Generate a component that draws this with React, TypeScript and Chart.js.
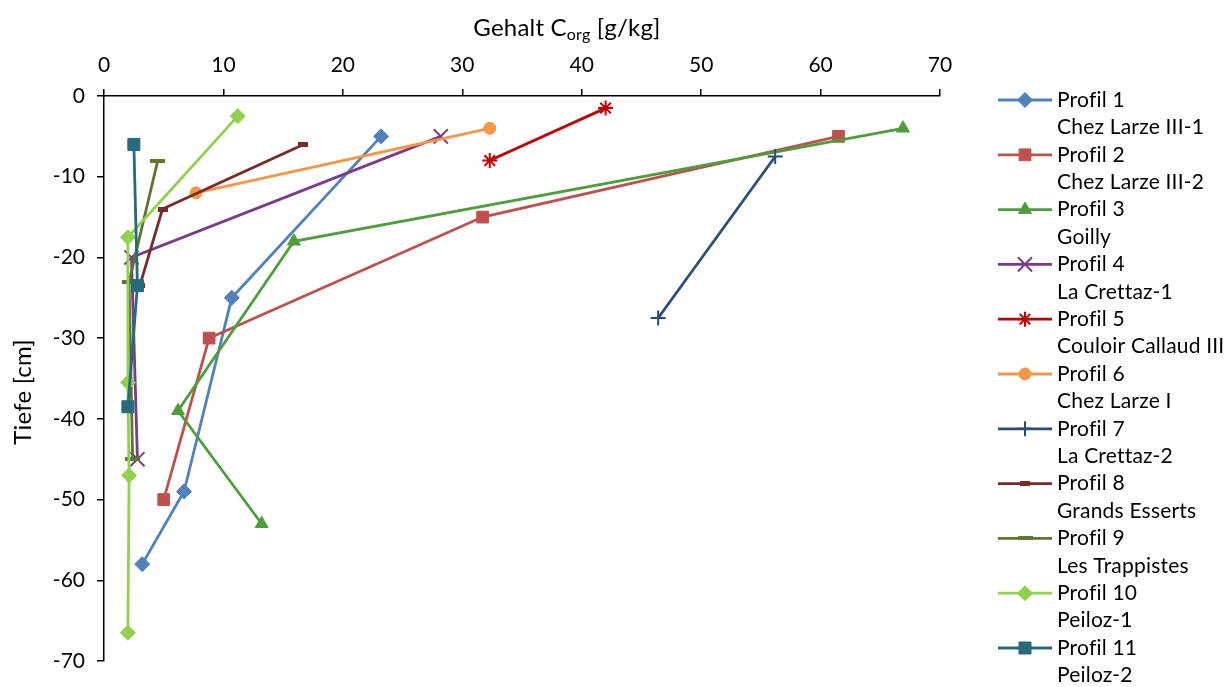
import React, { useEffect, useRef } from 'react';
import { Chart, registerables } from 'chart.js';
import { drawPoint } from 'chart.js/helpers';

Chart.register(...registerables);

// ---------- DATA ----------
const profileNames = ['Profil 1', 'Profil 2', 'Profil 3', 'Profil 4', 'Profil 5', 'Profil 6', 'Profil 7', 'Profil 8', 'Profil 9', 'Profil 10', 'Profil 11'];
const siteNames = ['Chez Larze III-1', 'Chez Larze III-2', 'Goilly', 'La Crettaz-1', 'Couloir Callaud III', 'Chez Larze I', 'La Crettaz-2', 'Grands Esserts', 'Les Trappistes', 'Peiloz-1', 'Peiloz-2'];

// Corg content [g/kg] and depth [cm] per profile
const p1Corg = [23.2, 10.7, 6.7, 3.2];
const p1Depth = [-5, -25, -49, -58];
const p2Corg = [61.5, 31.7, 8.8, 5.0];
const p2Depth = [-5, -15, -30, -50];
const p3Corg = [66.9, 15.9, 6.2, 13.2];
const p3Depth = [-4, -18, -39, -53];
const p4Corg = [28.2, 2.3, 2.8];
const p4Depth = [-5, -20, -45];
const p5Corg = [42.0, 32.3];
const p5Depth = [-1.5, -8];
const p6Corg = [32.3, 7.7];
const p6Depth = [-4, -12];
const p7Corg = [56.2, 46.4];
const p7Depth = [-7.5, -27.5];
const p8Corg = [16.7, 4.9, 3.0];
const p8Depth = [-6, -14, -23.5];
const p9Corg = [4.5, 2.1, 2.4];
const p9Depth = [-8, -23, -45];
const p10Corg = [11.2, 2.0, 2.0, 2.1, 2.0];
const p10Depth = [-2.5, -17.5, -35.5, -47, -66.5];
const p11Corg = [2.5, 2.8, 2.0];
const p11Depth = [-6, -23.5, -38.5];

const corgSeries = [p1Corg, p2Corg, p3Corg, p4Corg, p5Corg, p6Corg, p7Corg, p8Corg, p9Corg, p10Corg, p11Corg];
const depthSeries = [p1Depth, p2Depth, p3Depth, p4Depth, p5Depth, p6Depth, p7Depth, p8Depth, p9Depth, p10Depth, p11Depth];

const xTickValues = [0, 10, 20, 30, 40, 50, 60, 70];
const yTickValues = [0, -10, -20, -30, -40, -50, -60, -70];

// ---------- STYLES ----------
const colors = ['#4F81BD', '#C0504D', '#4E9E3C', '#7B3A8A', '#C00000', '#F79646', '#2C4D75', '#772C2A', '#5F7530', '#92D050', '#276A7C'];
const FONT = 'Lato';

function dash(color: string, w: number, h: number) {
  const c = document.createElement('canvas');
  c.width = w;
  c.height = h;
  const g = c.getContext('2d')!;
  g.fillStyle = color;
  g.fillRect(0, 0, w, h);
  return c;
}

const overlayPlugin = {
  id: 'overlay',
  afterDraw(chart: any) {
    const ctx = chart.ctx as CanvasRenderingContext2D;
    ctx.save();
    (ctx as any).letterSpacing = '0.2px';
    ctx.fillStyle = '#000';
    ctx.textBaseline = 'middle';
    ctx.textAlign = 'left';
    // X title with subscript
    const big = `24px ${FONT}`;
    const small = `16px ${FONT}`;
    ctx.font = big;
    const w1 = ctx.measureText('Gehalt C').width;
    const w3 = ctx.measureText(' [g/kg]').width;
    ctx.font = small;
    const w2 = ctx.measureText('org').width;
    let x = 567 - (w1 + w2 + w3) / 2;
    const ty = 28;
    ctx.font = big;
    ctx.fillText('Gehalt C', x, ty);
    x += w1;
    ctx.font = small;
    ctx.fillText('org', x, ty + 7);
    x += w2;
    ctx.font = big;
    ctx.fillText(' [g/kg]', x, ty);
    // Y title
    ctx.save();
    ctx.translate(23, 392);
    ctx.rotate(-Math.PI / 2);
    ctx.textAlign = 'center';
    ctx.fillText('Tiefe [cm]', 0, 0);
    ctx.restore();

    // Legend
    const lx0 = 998, lx1 = 1052, tx = 1057, ly0 = 100, step = 27.4;
    ctx.font = `21px ${FONT}`;
    chart.data.datasets.forEach((ds: any, i: number) => {
      const y = ly0 + i * 2 * step;
      ctx.strokeStyle = ds.borderColor;
      ctx.lineWidth = ds.borderWidth;
      ctx.beginPath();
      ctx.moveTo(lx0, y);
      ctx.lineTo(lx1, y);
      ctx.stroke();
      ctx.fillStyle = ds.pointBackgroundColor;
      ctx.strokeStyle = ds.pointBorderColor;
      ctx.lineWidth = ds.pointBorderWidth;
      drawPoint(ctx, { pointStyle: ds.pointStyle, radius: ds.pointRadius, borderWidth: ds.pointBorderWidth, rotation: 0 } as any, (lx0 + lx1) / 2, y);
      ctx.fillStyle = '#000';
      ctx.textAlign = 'left';
      ctx.fillText(profileNames[i], tx, y);
      ctx.fillText(siteNames[i], tx, y + step);
    });
    ctx.restore();
  },
};

export default function App() {
  const ref = useRef<HTMLCanvasElement>(null);
  useEffect(() => {
    document.body.style.margin = '0';
    const pointStyles: any[] = ['rectRot', 'rect', 'triangle', 'crossRot', 'star', 'circle', 'cross', dash(colors[7], 10, 5), dash(colors[8], 15, 4), 'rectRot', 'rect'];
    const radii = [7.5, 8.3, 7.5, 10, 7.5, 6, 7.5, 5, 5, 7.5, 8.5];
    const pointBorderWidths = [1, 1, 1, 2, 2, 1, 2, 1, 1, 1, 1];
    const n = corgSeries.length;
    const datasets = corgSeries.map((xs, i) => ({
      label: profileNames[i],
      data: xs.map((v, j) => ({ x: v, y: depthSeries[i][j] })),
      showLine: true,
      borderColor: colors[i],
      backgroundColor: colors[i],
      pointBackgroundColor: colors[i],
      pointBorderColor: colors[i],
      borderWidth: 2.8,
      pointStyle: pointStyles[i],
      pointRadius: radii[i],
      pointBorderWidth: pointBorderWidths[i],
      order: n - i,
      clip: false as any,
    }));
    const tickFont = { family: FONT, size: 21 };
    const chart = new Chart(ref.current!, {
      type: 'scatter',
      data: { datasets },
      options: {
        responsive: false,
        animation: false,
        devicePixelRatio: 1,
        layout: { padding: { top: 0, left: 0, right: 1232 - 940, bottom: 26 } },
        plugins: { legend: { display: false }, tooltip: { enabled: false } },
        scales: {
          x: {
            type: 'linear',
            position: 'top',
            min: 0,
            max: 70,
            afterBuildTicks: (s: any) => { s.ticks = xTickValues.map((v) => ({ value: v })); },
            afterFit: (s: any) => { s.height = 96; },
            ticks: { color: '#000', font: tickFont, padding: 11, maxRotation: 0 },
            grid: { drawOnChartArea: false, drawTicks: true, tickLength: 7, color: '#000', lineWidth: 1.5 },
            border: { display: true, color: '#000', width: 1.5 },
          },
          y: {
            type: 'linear',
            min: -70,
            max: 0,
            afterBuildTicks: (s: any) => { s.ticks = yTickValues.map((v) => ({ value: v })); },
            afterFit: (s: any) => { s.width = 104; },
            ticks: { color: '#000', font: tickFont, padding: 12 },
            grid: { drawOnChartArea: false, drawTicks: true, tickLength: 7, color: '#000', lineWidth: 1.5 },
            border: { display: true, color: '#000', width: 1.5 },
          },
        },
      },
      plugins: [overlayPlugin],
    });
    return () => chart.destroy();
  }, []);
  return (
    <div style={{ position: 'fixed', left: 0, top: 0, width: 1232, height: 687, background: '#fff' }}>
      <canvas ref={ref} width={1232} height={687} style={{ width: 1232, height: 687 }} />
    </div>
  );
}
